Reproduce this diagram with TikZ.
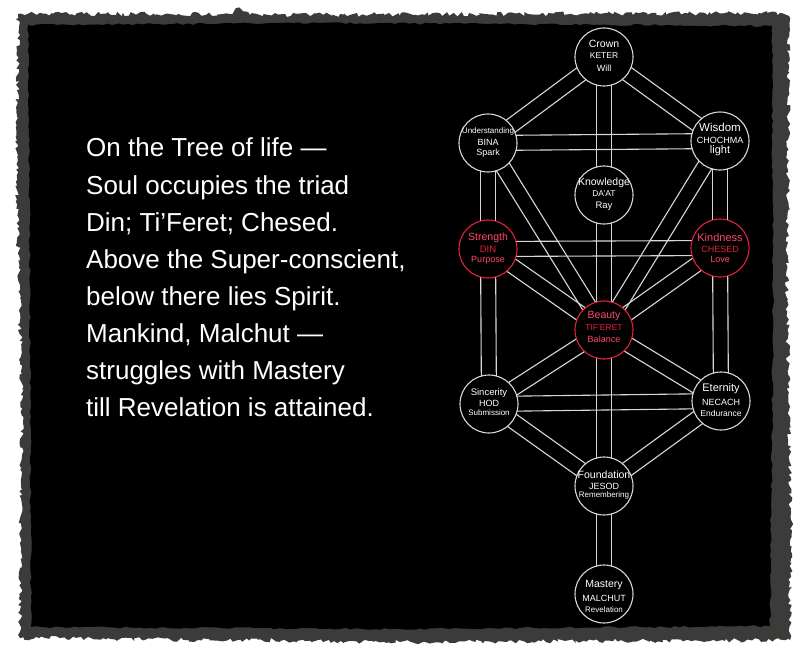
\documentclass[tikz,border=0pt]{standalone}
\usepackage{fontspec}
\setmainfont{Liberation Sans}
\usetikzlibrary{calc,decorations.pathmorphing}
\definecolor{paper}{HTML}{3B3B39}
\definecolor{lineg}{HTML}{D8D8D8}
\definecolor{redc}{HTML}{E3213D}
\definecolor{redt}{HTML}{FF4A66}
\newcommand\band[2]{%
 \draw[pathline] let \p1=($(#2)-(#1)$), \n1={atan2(\y1,\x1)} in
   ($(#1)+({\n1+90}:7.5pt)$) -- ($(#2)+({\n1+90}:7.5pt)$)
   ($(#1)+({\n1-90}:7.5pt)$) -- ($(#2)+({\n1-90}:7.5pt)$);}
\newcommand\fs[1]{\fontsize{#1}{#1}\selectfont}
\tikzset{
 pathline/.style={draw=lineg, line width=1.1pt},
 circ/.style={circle, minimum size=58pt, inner sep=0pt, fill=black, draw=lineg, line width=1.1pt},
 redcirc/.style={circ, draw=redc},
 lab/.style={text=white, inner sep=0pt},
 redlab/.style={text=redt, inner sep=0pt},
 redlab2/.style={text=redc, inner sep=0pt},
 maintext/.style={text=white, inner sep=0pt, anchor=base west, font=\fs{26}},
 torn/.style={decorate, decoration={random steps, segment length=3pt, amplitude=2.2pt}},
 torn2/.style={decorate, decoration={random steps, segment length=5pt, amplitude=1pt}}
}
\begin{document}
\begin{tikzpicture}[x=1pt,y=-1pt]
\pgfmathsetseed{7}
\useasboundingbox (0,0) rectangle (800,650);
\fill[white] (0,0) rectangle (800,650);
% torn paper frame
\fill[paper, torn] (18,14) -- (230,14) -- (240,8) -- (250,15) -- (780,13) -- (789,16) -- (787,300) -- (791,520) -- (790,640) -- (400,642) -- (20,638) -- (22,400) -- (17,200) -- cycle;
\fill[black, torn2] (28,25) -- (320,23) -- (772,26) -- (773,330) -- (770,626) -- (400,629) -- (31,627) -- (30,300) -- cycle;
% centres
\coordinate (crown) at (604,57);
\coordinate (under) at (488,143);
\coordinate (wisdom) at (720,141);
\coordinate (know) at (604,195);
\coordinate (strength) at (488,249);
\coordinate (kind) at (720,248);
\coordinate (beauty) at (604,330);
\coordinate (sinc) at (489,404);
\coordinate (etern) at (721,401);
\coordinate (found) at (604,486);
\coordinate (mast) at (604,594);
% paths
\band{crown}{under}
\band{crown}{wisdom}
\band{crown}{know}
\band{under}{wisdom}
\band{under}{strength}
\band{under}{beauty}
\band{wisdom}{kind}
\band{wisdom}{beauty}
\band{know}{beauty}
\band{strength}{kind}
\band{strength}{beauty}
\band{kind}{beauty}
\band{strength}{sinc}
\band{kind}{etern}
\band{beauty}{sinc}
\band{beauty}{etern}
\band{beauty}{found}
\band{sinc}{etern}
\band{sinc}{found}
\band{etern}{found}
\band{found}{mast}
% circles
\node[circ] (crownC) at (crown) {};
\node[circ] (underC) at (under) {};
\node[circ] (wisdomC) at (wisdom) {};
\node[circ] (knowC) at (know) {};
\node[redcirc] (strengthC) at (strength) {};
\node[redcirc] (kindC) at (kind) {};
\node[redcirc] (beautyC) at (beauty) {};
\node[circ] (sincC) at (sinc) {};
\node[circ] (eternC) at (etern) {};
\node[circ] (foundC) at (found) {};
\node[circ] (mastC) at (mast) {};
% labels
\node[lab, font=\fs{10.5}] (crownA) at ($(crown)+(0,-13)$) {Crown};
\node[lab, font=\fs{8.5}] (crownB) at ($(crown)+(0,-1)$) {KETER};
\node[lab, font=\fs{9}] (crownD) at ($(crown)+(0,11)$) {Will};
\node[lab, font=\fs{8}] (underA) at ($(under)+(0,-12)$) {Understanding};
\node[lab, font=\fs{9}] (underB) at ($(under)+(0,-1)$) {BINA};
\node[lab, font=\fs{9}] (underD) at ($(under)+(0,10)$) {Spark};
\node[lab, font=\fs{11.5}] (wisdomA) at ($(wisdom)+(0,-14)$) {Wisdom};
\node[lab, font=\fs{9}] (wisdomB) at ($(wisdom)+(0,-1)$) {CHOCHMA};
\node[lab, font=\fs{11}] (wisdomD) at ($(wisdom)+(0,10)$) {light};
\node[lab, font=\fs{10.5}] (knowA) at ($(know)+(0,-12)$) {Knowledge};
\node[lab, font=\fs{8.5}] (knowB) at ($(know)+(0,-1)$) {DA'AT};
\node[lab, font=\fs{9.5}] (knowD) at ($(know)+(0,11)$) {Ray};
\node[redlab, font=\fs{10.5}] (strengthA) at ($(strength)+(0,-11)$) {Strength};
\node[redlab2, font=\fs{9.5}] (strengthB) at ($(strength)+(0,0)$) {DIN};
\node[redlab, font=\fs{9}] (strengthD) at ($(strength)+(0,11)$) {Purpose};
\node[redlab, font=\fs{11}] (kindA) at ($(kind)+(0,-10)$) {Kindness};
\node[redlab2, font=\fs{9}] (kindB) at ($(kind)+(0,1)$) {CHESED};
\node[redlab, font=\fs{9}] (kindD) at ($(kind)+(0,11)$) {Love};
\node[redlab, font=\fs{10.5}] (beautyA) at ($(beauty)+(0,-14)$) {Beauty};
\node[redlab2, font=\fs{8.5}] (beautyB) at ($(beauty)+(0,-2)$) {TIF'ERET};
\node[redlab, font=\fs{9}] (beautyD) at ($(beauty)+(0,9)$) {Balance};
\node[lab, font=\fs{9.5}] (sincA) at ($(sinc)+(0,-11)$) {Sincerity};
\node[lab, font=\fs{9}] (sincB) at ($(sinc)+(0,-1)$) {HOD};
\node[lab, font=\fs{8}] (sincD) at ($(sinc)+(0,9)$) {Submission};
\node[lab, font=\fs{11}] (eternA) at ($(etern)+(0,-12)$) {Eternity};
\node[lab, font=\fs{9}] (eternB) at ($(etern)+(0,1)$) {NECACH};
\node[lab, font=\fs{8.5}] (eternD) at ($(etern)+(0,12)$) {Endurance};
\node[lab, font=\fs{10.5}] (foundA) at ($(found)+(0,-11)$) {Foundation};
\node[lab, font=\fs{9}] (foundB) at ($(found)+(0,0)$) {JESOD};
\node[lab, font=\fs{8}] (foundD) at ($(found)+(0,9)$) {Remembering};
\node[lab, font=\fs{10.5}] (mastA) at ($(mast)+(0,-9)$) {Mastery};
\node[lab, font=\fs{9}] (mastB) at ($(mast)+(0,4)$) {MALCHUT};
\node[lab, font=\fs{8}] (mastD) at ($(mast)+(0,16)$) {Revelation};
% poem
\node[maintext] (l1) at (86,157) {On the Tree of life —};
\node[maintext] (l2) at (86,194) {Soul occupies the triad};
\node[maintext] (l3) at (86,231) {Din; Ti'Feret; Chesed.};
\node[maintext] (l4) at (86,268) {Above the Super-conscient,};
\node[maintext] (l5) at (86,305) {below there lies Spirit.};
\node[maintext] (l6) at (86,342) {Mankind, Malchut —};
\node[maintext] (l7) at (86,379) {struggles with Mastery};
\node[maintext] (l8) at (86,416) {till Revelation is attained.};
\end{tikzpicture}
\end{document}
